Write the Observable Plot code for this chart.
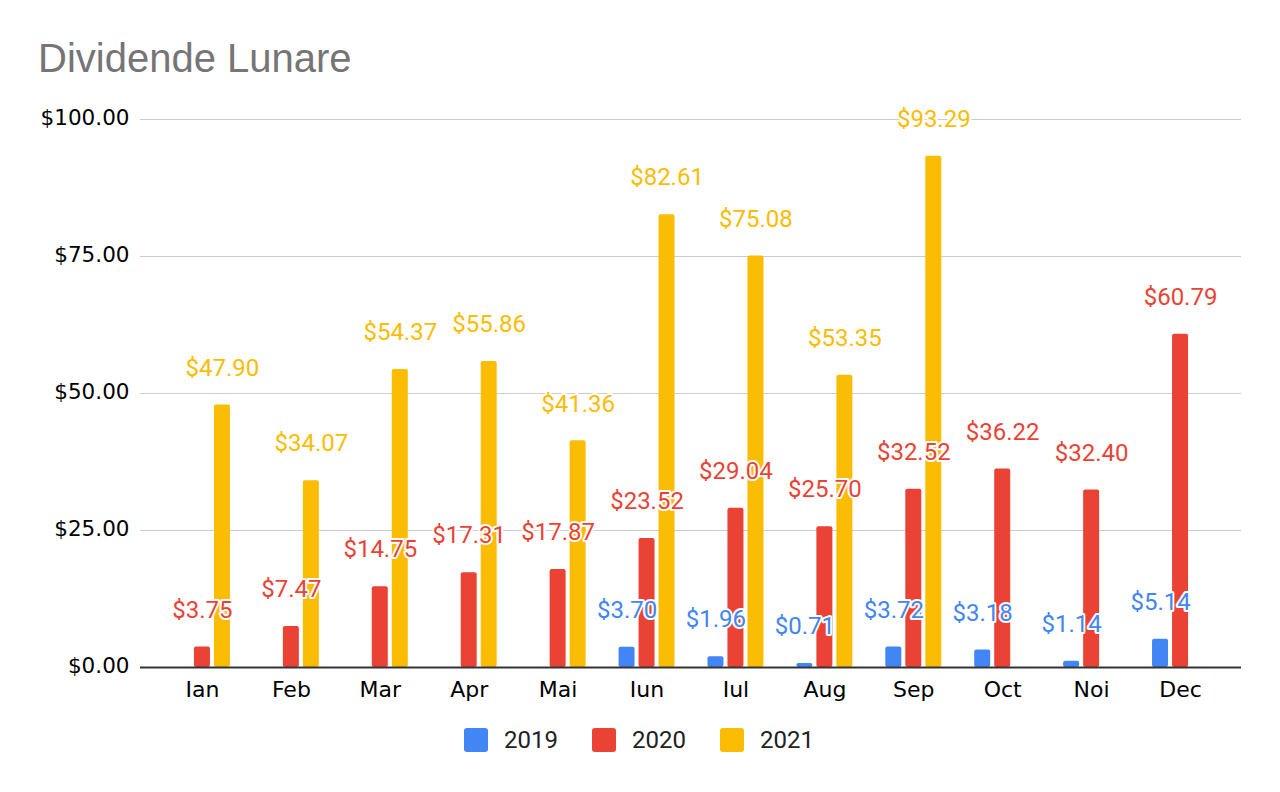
<!DOCTYPE html>
<html>
<head>
<meta charset="utf-8">
<script src="https://cdn.jsdelivr.net/npm/d3@7"></script>
<script src="https://cdn.jsdelivr.net/npm/@observablehq/plot@0.6"></script>
<style>
  html, body { margin: 0; padding: 0; background: #fff; }
  #wrap { position: relative; width: 1280px; height: 792px; overflow: hidden; }
  #title { position: absolute; left: 38px; top: 38px; font-family: "Liberation Sans", Arial, sans-serif; font-size: 40px; line-height: 40px; color: #757575; white-space: nowrap; }
  #chart { position: absolute; left: 0; top: 100px; }
  #legend { position: absolute; left: 464px; top: 728px; display: flex; font-family: Roboto, sans-serif; font-size: 24px; color: #222; }
  .item { width: 128px; display: flex; align-items: center; height: 24px; }
  .sw { width: 24px; height: 24px; border-radius: 3px; margin-right: 16px; flex: none; }
  .lab { line-height: 24px; }
</style>
</head>
<body>
<div id="wrap">
  <div id="title">Dividende Lunare</div>
  <div id="chart"></div>
  <div id="legend"></div>
</div>
<script>
const months = ["Ian","Feb","Mar","Apr","Mai","Iun","Iul","Aug","Sep","Oct","Noi","Dec"];
const years = ["2019","2020","2021"];
const colors = ["#4285F4","#EA4335","#FBBC04"];
const values2019 = [null, null, null, null, null, 3.70, 1.96, 0.71, 3.72, 3.18, 1.14, 5.14];
const values2020 = [3.75, 7.47, 14.75, 17.31, 17.87, 23.52, 29.04, 25.70, 32.52, 36.22, 32.40, 60.79];
const values2021 = [47.90, 34.07, 54.37, 55.86, 41.36, 82.61, 75.08, 53.35, 93.29, null, null, null];
const yTicks = [0, 25, 50, 75, 100];

const series = [values2019, values2020, values2021];
const offsets = [-20, 0, 20];

const rowsByYear = years.map((yr, i) =>
  months.map((m, j) => ({month: m, year: yr, value: series[i][j]})).filter(d => d.value != null)
);

const fmt = v => "$" + v.toFixed(2);

const marks = [
  Plot.ruleY(yTicks.filter(t => t !== 0), {stroke: "#cccccc", strokeWidth: 1.2}),
  Plot.axisY(yTicks, {
    tickSize: 0, tickPadding: 11, tickFormat: fmt,
    fontFamily: "DejaVu Sans", fontSize: 21.5, fill: "#000", dy: -1.5
  }),
  Plot.axisX({
    tickSize: 0, tickPadding: 14,
    fontFamily: "DejaVu Sans", fontSize: 22, fill: "#000"
  })
];

years.forEach((yr, i) => {
  marks.push(Plot.barY(rowsByYear[i], {
    x: "month", y: "value", fill: "year", dx: offsets[i],
    insetLeft: 36.46, insetRight: 36.46, rx: 2
  }));
});

marks.push(Plot.ruleY([0], {stroke: "#333333", strokeWidth: 2}));

years.forEach((yr, i) => {
  marks.push(Plot.text(rowsByYear[i], {
    x: "month", y: "value", text: d => fmt(d.value), fill: "year",
    dx: offsets[i], dy: -37,
    fontFamily: "Roboto", fontSize: 24,
    stroke: "white", strokeWidth: 4, paintOrder: "stroke"
  }));
});

const chart = Plot.plot({
  width: 1280,
  height: 620,
  marginTop: 19,
  marginBottom: 53,
  marginLeft: 140,
  marginRight: 39,
  x: {type: "band", domain: months, range: [157.5, 1224.5], padding: 0, round: false, label: null},
  y: {domain: [0, 100], label: null},
  color: {domain: years, range: colors},
  style: {background: "transparent", overflow: "visible"},
  marks
});
document.getElementById("chart").appendChild(chart);

const legend = document.getElementById("legend");
years.forEach((yr, i) => {
  const item = document.createElement("div");
  item.className = "item";
  const sw = document.createElement("div");
  sw.className = "sw";
  sw.style.background = colors[i];
  const lab = document.createElement("div");
  lab.className = "lab";
  lab.textContent = yr;
  item.appendChild(sw);
  item.appendChild(lab);
  legend.appendChild(item);
});
</script>
</body>
</html>
